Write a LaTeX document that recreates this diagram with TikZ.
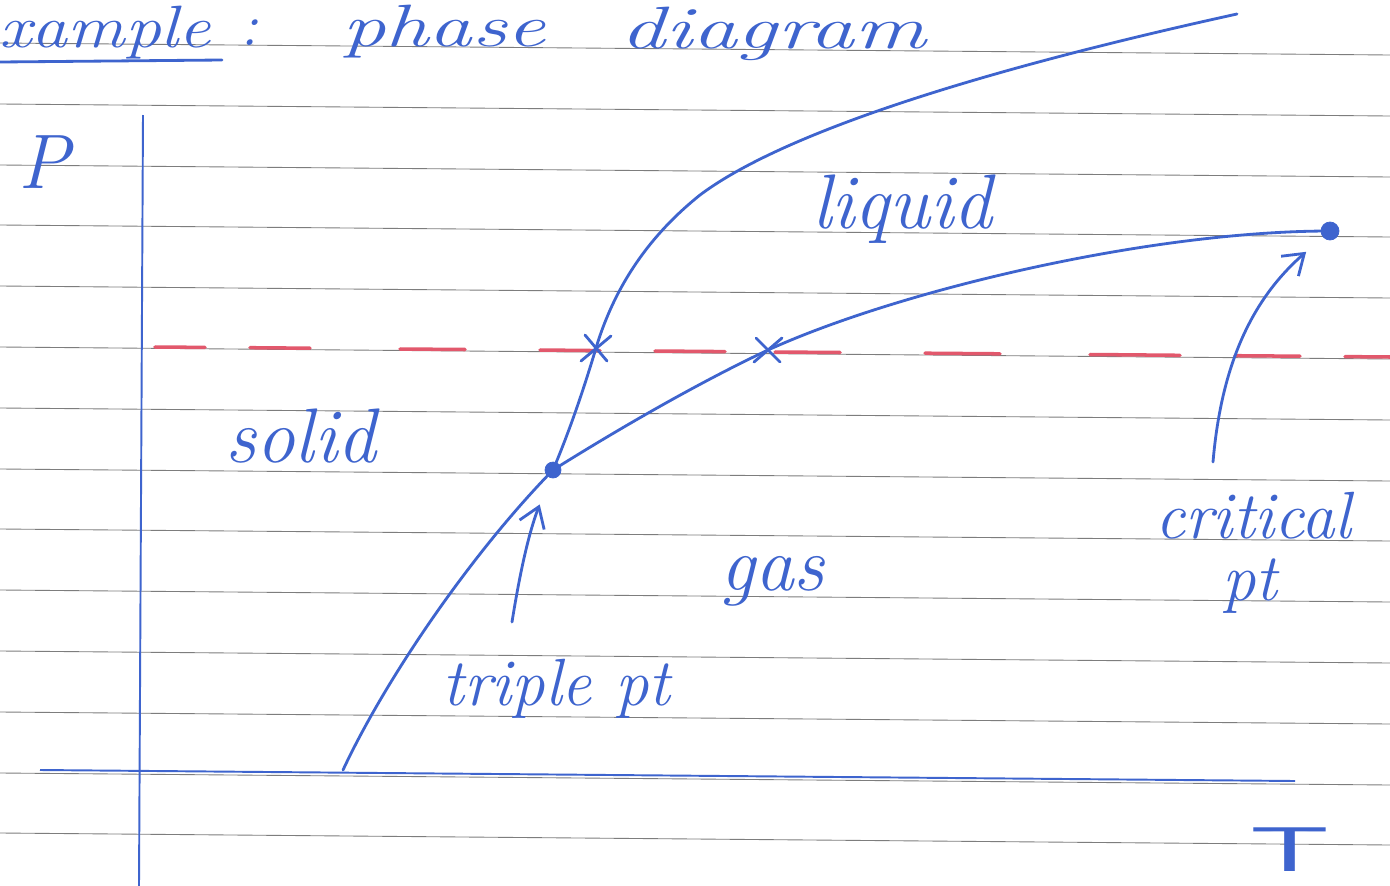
\documentclass[tikz,border=0pt]{standalone}
\usepackage{fontspec}
\usetikzlibrary{arrows.meta}
\definecolor{inkblue}{RGB}{62,100,206}
\definecolor{redink}{RGB}{226,88,108}
\definecolor{paperline}{RGB}{125,125,125}
\tikzset{
  ink/.style={draw=inkblue,line width=1.6pt,line cap=round},
  axisline/.style={draw=inkblue,line width=1.1pt},
  ruled/.style={draw=paperline,line width=0.5pt},
  hand/.style={text=inkblue,inner sep=0pt,font=\itshape\fontsize{44}{50}\selectfont},
  title/.style={hand,anchor=base west,font=\itshape\fontsize{34}{40}\selectfont},
  pointer/.style={ink,-{Straight Barb[length=11pt,width=15pt]}},
  dot/.style={fill=inkblue,draw=inkblue},
}
\begin{document}
\begin{tikzpicture}[x=0.02cm,y=-0.02cm]
\useasboundingbox (0,0) rectangle (1390,886);
\clip (0,0) rectangle (1390,886);
\fill[white] (0,0) rectangle (1390,886);
% ruled paper
\draw[ruled] (0,43) -- (1390,55);
\draw[ruled] (0,104) -- (1390,116);
\draw[ruled] (0,165) -- (1390,177);
\draw[ruled] (0,225) -- (1390,237);
\draw[ruled] (0,286) -- (1390,298);
\draw[ruled] (0,347) -- (1390,359);
\draw[ruled] (0,408) -- (1390,420);
\draw[ruled] (0,469) -- (1390,481);
\draw[ruled] (0,529) -- (1390,541);
\draw[ruled] (0,590) -- (1390,602);
\draw[ruled] (0,651) -- (1390,663);
\draw[ruled] (0,712) -- (1390,724);
\draw[ruled] (0,773) -- (1390,785);
\draw[ruled] (0,833) -- (1390,845);
% title
\node[title] (titleA) at (-33,47) {\scalebox{1.2}[1]{example}};
\node[title] (titleB) at (240,45) {:};
\node[title] (titleC) at (342,46) {\scalebox{1.45}[1]{phase}};
\node[title] (titleD) at (620,48) {\scalebox{1.5}[1]{diagram}};
\draw[ink] (0,62) -- (222,60);
% axes
\coordinate (pTop) at (143,115);
\coordinate (pBottom) at (139,886);
\coordinate (tLeft) at (40,770);
\coordinate (tRight) at (1295,781);
\draw[axisline] (pTop) -- (pBottom);
\draw[axisline] (tLeft) -- (tRight);
\node[hand,anchor=base west] (pLabel) at (18,188) {P};
\node[hand,font=\sffamily\fontsize{36}{42}\selectfont] (tLabel) at (1290,850) {\scalebox{2}[1]{T}};
% constant pressure line
\draw[redink,line width=2pt,line cap=round]
  (155,347) -- (205,347.4) (250,347.7) -- (310,348.2) (400,349) -- (465,349.5)
  (540,350) -- (600,350.6) (655,351) -- (725,351.6) (775,352) -- (840,352.5)
  (925,353.2) -- (1000,353.8) (1090,354.5) -- (1180,355.3) (1235,355.7) -- (1300,356.2)
  (1345,356.6) -- (1390,357);
% phase boundaries
\coordinate (triple) at (553,470);
\coordinate (critical) at (1330,231);
\coordinate (meltX) at (596,348);
\coordinate (boilX) at (768,350);
\coordinate (subStart) at (343,770);
\coordinate (meltBend) at (700,195);
\coordinate (meltEnd) at (1237,14);
\draw[ink] (subStart) .. controls (385,680) and (470,555) .. (triple);
\draw[ink] (triple) .. controls (620,428) and (700,382) .. (boilX)
  .. controls (900,290) and (1150,231) .. (critical);
\draw[ink] (triple) .. controls (570,430) and (585,385) .. (meltX)
  .. controls (615,285) and (650,235) .. (meltBend)
  .. controls (800,120) and (1050,55) .. (meltEnd);
\filldraw[dot] (triple) circle (8);
\filldraw[dot] (critical) circle (9);
\draw[ink] (meltX) +(-11,-13) -- +(11,13) (meltX) +(-15,13) -- +(15,-12);
\draw[ink] (boilX) +(-12,-12) -- +(12,12) (boilX) +(-14,12) -- +(14,-12);
% regions
\node[hand,anchor=base west] (solid) at (225,462) {solid};
\node[hand,anchor=base west] (liquid) at (812,228) {liquid};
\node[hand,anchor=base west] (gas) at (720,590) {gas};
\node[hand,font=\itshape\fontsize{38}{44}\selectfont,anchor=base west] (tripleLbl) at (442,705) {triple pt};
\node[hand,font=\itshape\fontsize{38}{44}\selectfont,anchor=base west] (critLbl) at (1155,538) {critical};
\node[hand,font=\itshape\fontsize{38}{44}\selectfont,anchor=base west] (critLblB) at (1222,600) {pt};
% pointers
\coordinate (tripleTail) at (512,622);
\coordinate (critTail) at (1213,462);
\draw[pointer,shorten >=21pt] (tripleTail) to[bend left=6] (triple);
\draw[pointer,shorten >=18pt] (critTail) to[bend left=22] (critical);
\end{tikzpicture}
\end{document}
